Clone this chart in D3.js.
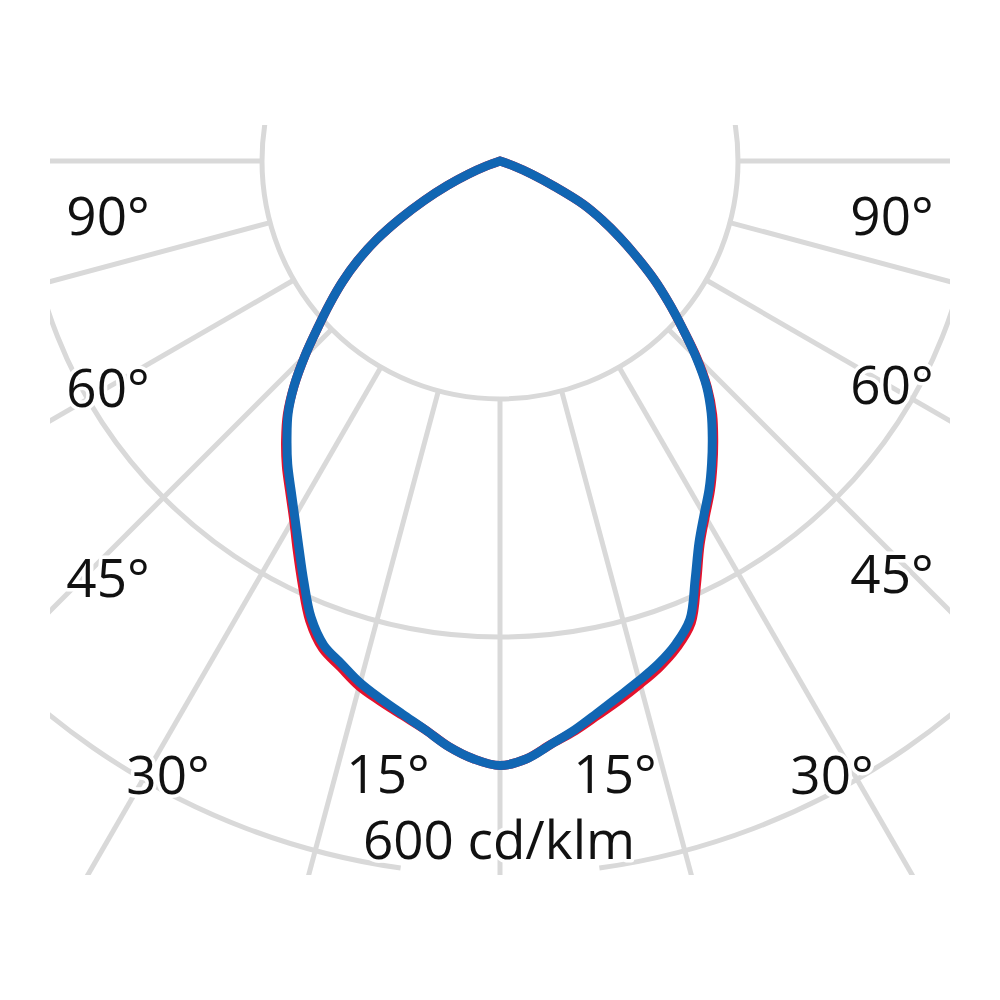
<!DOCTYPE html>
<html><head><meta charset="utf-8">
<script src="https://cdn.jsdelivr.net/npm/d3@7"></script>
<style>html,body{margin:0;padding:0;background:#fff;} svg{display:block;}</style>
</head><body>
<svg id="chart" width="1000" height="1000"></svg>
<script>
// ---- data (cd/klm) ----
const gammaAngles = [0,2.5,5,7.5,10,12.5,15,17.5,20,22.5,25,27.5,30,32.5,35,37.5,40,42.5,45,47.5,50,52.5,55,57.5,60,62.5,65,67.5,70,72.5];
const blueLeft  = [508,503,494,482,472,463,454,443,433,415,390,366,345,327,311,294,277,256,232,208,187,167,146,123,97,72,49,29,12,0];
const blueRight = [508,503,492,482,471,461,452,443,432,417,388,362,343,327,310,293,276,257,233,208,185,163,140,119,99,79,50,29,12,0];
const redLeft   = [508,503,494,482,473,465,457,446,436,418,393,369,347,329,313,296,278,256,232,208,187,167,146,123,97,72,49,29,12,0];
const redRight  = [508,503,492,483,473,464,455,446,435,420,391,364,345,329,312,295,278,258,234,208,185,163,140,119,99,79,50,29,12,0];
const ringValues = [200,400,600];
const spokeAngles = [0,15,30,45,60,75,90];
const angleLabels = ["90°","60°","45°","30°","15°"];
const unitLabel = "600 cd/klm";

// ---- layout ----
const W = 1000, H = 1000, cx = 500, cy = 161;
const gridColor = "#d9d9d9";
const rScale = d3.scaleLinear().domain([0, 600]).range([0, 714]);
const rad = d => d * Math.PI / 180;

const svg = d3.select("#chart");
svg.append("rect").attr("width", W).attr("height", H).attr("fill", "#fff");
svg.append("defs").append("clipPath").attr("id", "frame")
  .append("rect").attr("x", 50).attr("y", 125).attr("width", 900).attr("height", 750);

const grid = svg.append("g").attr("clip-path", "url(#frame)")
  .append("g").attr("transform", `translate(${cx},${cy})`);

// rings
ringValues.forEach(v => {
  const R = rScale(v);
  if (v === 600) {
    const gap = rad(8);
    grid.append("path")
      .attr("d", d3.arc().innerRadius(R).outerRadius(R)
        .startAngle(Math.PI + gap).endAngle(3 * Math.PI - gap)())
      .attr("fill", "none").attr("stroke", gridColor).attr("stroke-width", 5);
  } else {
    grid.append("circle").attr("r", R)
      .attr("fill", "none").attr("stroke", gridColor).attr("stroke-width", 5);
  }
});

// spokes
const r0 = rScale(200), r1 = 1500;
spokeAngles.forEach(a => {
  const sides = a === 0 ? [1] : [-1, 1];
  sides.forEach(s => {
    const sx = s * Math.sin(rad(a)), sy = Math.cos(rad(a));
    grid.append("line")
      .attr("x1", sx * r0).attr("y1", sy * r0)
      .attr("x2", sx * r1).attr("y2", sy * r1)
      .attr("stroke", gridColor).attr("stroke-width", 5);
  });
});

// labels
const labelPos = [
  {i:0, x:108, y:235}, {i:1, x:108, y:407}, {i:2, x:108, y:597}, {i:3, x:168, y:794}, {i:4, x:388, y:793},
  {i:0, x:892, y:235}, {i:1, x:892, y:404}, {i:2, x:892, y:593}, {i:3, x:832, y:794}, {i:4, x:615, y:793}
];
const fontFam = "'Open Sans', 'Noto Sans', sans-serif";
const lab = svg.append("g");
labelPos.forEach(p => {
  lab.append("text").attr("x", p.x).attr("y", p.y)
    .attr("text-anchor", "middle")
    .attr("font-family", fontFam).attr("font-size", 53)
    .attr("fill", "#111")
    .attr("stroke", "#fff").attr("stroke-width", 7).attr("stroke-linejoin", "round")
    .attr("paint-order", "stroke")
    .text(angleLabels[p.i]);
});
lab.append("text").attr("x", 499).attr("y", 859)
  .attr("text-anchor", "middle")
  .attr("font-family", fontFam).attr("font-size", 53)
  .attr("fill", "#111")
  .attr("stroke", "#fff").attr("stroke-width", 7).attr("stroke-linejoin", "round")
  .attr("paint-order", "stroke")
  .text(unitLabel);

// curves
const curveG = svg.append("g").attr("transform", `translate(${cx},${cy})`);
const line = d3.lineRadial()
  .angle(d => d.a).radius(d => rScale(d.v))
  .curve(d3.curveCatmullRom.alpha(0.5));

function buildPoints(left, right) {
  const L = gammaAngles.map((g, i) => ({a: Math.PI + rad(g), v: left[i]})).reverse();
  const R = gammaAngles.map((g, i) => ({a: Math.PI - rad(g), v: right[i]})).slice(1);
  return L.concat(R);
}

curveG.append("path").attr("d", line(buildPoints(redLeft, redRight)))
  .attr("fill", "none").attr("stroke", "#e3122d").attr("stroke-width", 9)
  .attr("stroke-linejoin", "round").attr("stroke-linecap", "round");
curveG.append("path").attr("d", line(buildPoints(blueLeft, blueRight)))
  .attr("fill", "none").attr("stroke", "#1166b3").attr("stroke-width", 9)
  .attr("stroke-linejoin", "round").attr("stroke-linecap", "round");
</script>
</body></html>
